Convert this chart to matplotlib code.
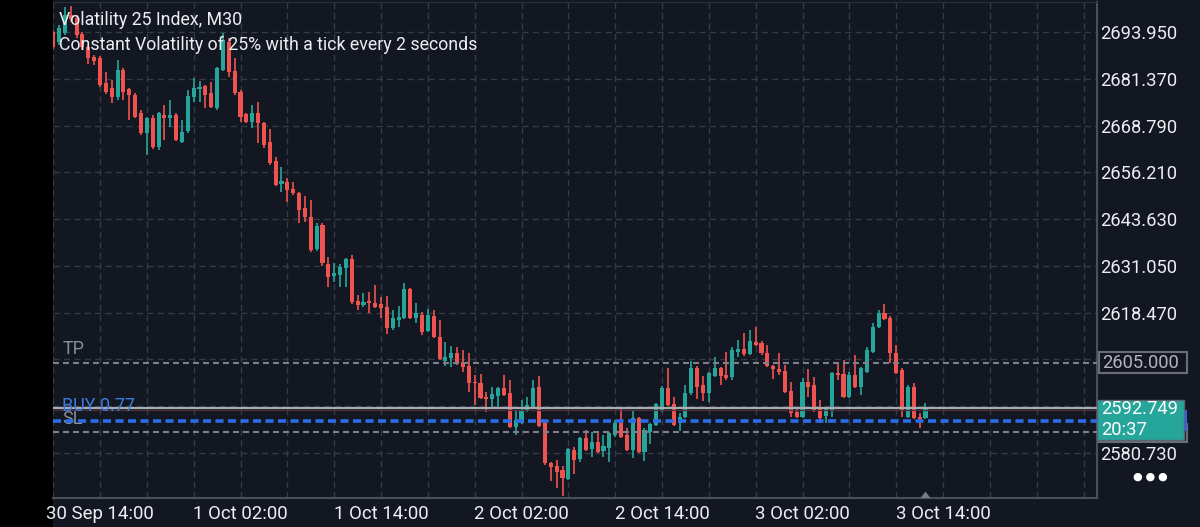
import numpy as np
import matplotlib.pyplot as plt
import matplotlib.transforms as mtransforms
from matplotlib.patches import Rectangle, Polygon

plt.rcParams['font.family'] = ['Roboto', 'DejaVu Sans']
plt.rcParams['lines.scale_dashes'] = False

# Volatility 25 Index, M30 candles. index 0 = 30 Sep 14:00, first candle is index -8
first_index = -8
opens = [2693.95, 2691.26, 2693.68, 2698.52, 2697.72, 2693.41, 2689.92, 2687.23,
         2686.96, 2680.23, 2678.89, 2676.47, 2683.73, 2678.62, 2677.00, 2672.16, 2666.78, 2670.82,
         2663.02, 2671.62, 2670.82, 2671.62, 2664.36, 2667.32, 2676.47, 2678.62, 2679.43, 2677.54,
         2673.51, 2683.73, 2691.26, 2683.46, 2677.81, 2671.89, 2669.74, 2672.16, 2669.47, 2664.36,
         2659.25, 2653.06, 2653.60, 2651.68, 2650.64, 2646.61, 2644.19, 2635.58, 2642.03, 2631.54,
         2628.32, 2628.59, 2630.47, 2632.89, 2621.59, 2620.51, 2621.59, 2621.05, 2620.78, 2619.98,
         2614.33, 2616.48, 2617.02, 2624.82, 2617.02, 2617.83, 2613.52, 2617.56, 2611.91, 2605.45,
         2606.26, 2607.60, 2605.18, 2604.11, 2599.80, 2599.53, 2595.77, 2595.23, 2596.04, 2598.15,
         2596.84, 2587.70, 2588.77, 2592.00, 2592.81, 2598.42, 2588.77, 2578.01, 2577.21, 2576.13,
         2573.71, 2581.51, 2579.09, 2584.74, 2581.78, 2583.66, 2581.24, 2582.05, 2585.55, 2588.77,
         2585.55, 2581.51, 2590.12, 2580.97, 2586.35, 2588.23, 2592.27, 2598.15, 2593.88, 2588.77,
         2590.39, 2596.84, 2603.57, 2598.96, 2596.84, 2601.42, 2603.57, 2601.69, 2601.15, 2607.87,
         2608.68, 2607.33, 2610.56, 2610.29, 2607.60, 2604.11, 2603.30, 2602.76, 2597.38, 2591.73,
         2590.39, 2599.80, 2598.99, 2592.81, 2590.66, 2592.27, 2602.23, 2601.95, 2595.77, 2601.69,
         2598.42, 2602.49, 2607.87, 2614.60, 2618.36, 2617.02, 2607.60, 2603.03, 2590.39, 2598.45,
         2590.39, 2590.12]
highs = [2694.49, 2695.83, 2700.68, 2700.95, 2698.52, 2693.95, 2690.45, 2687.76,
         2687.50, 2683.19, 2681.04, 2686.42, 2684.27, 2678.89, 2677.54, 2672.97, 2671.09, 2671.62,
         2672.43, 2674.31, 2675.66, 2672.16, 2670.28, 2678.35, 2681.58, 2680.77, 2679.69, 2680.50,
         2684.54, 2693.68, 2692.34, 2686.96, 2678.35, 2672.16, 2674.31, 2675.12, 2669.74, 2667.86,
         2660.33, 2657.64, 2654.67, 2653.60, 2650.91, 2649.84, 2648.76, 2642.57, 2642.57, 2633.43,
         2631.81, 2631.54, 2633.20, 2633.97, 2623.21, 2623.74, 2624.01, 2625.90, 2622.67, 2622.94,
         2619.17, 2620.24, 2626.43, 2625.10, 2621.05, 2618.63, 2619.44, 2619.17, 2616.48, 2610.56,
         2609.49, 2609.22, 2608.41, 2607.60, 2601.69, 2601.95, 2597.11, 2598.42, 2598.42, 2601.69,
         2600.34, 2592.27, 2594.96, 2595.77, 2600.34, 2601.42, 2589.04, 2578.28, 2578.82, 2577.21,
         2582.00, 2582.32, 2585.01, 2586.89, 2586.35, 2586.35, 2585.55, 2586.35, 2589.58, 2593.08,
         2587.43, 2592.27, 2590.39, 2587.43, 2588.77, 2594.15, 2598.69, 2603.57, 2595.77, 2591.46,
         2598.96, 2605.45, 2604.11, 2601.42, 2602.49, 2606.53, 2603.84, 2607.87, 2609.22, 2611.10,
         2612.98, 2613.79, 2614.60, 2610.83, 2609.76, 2604.38, 2607.60, 2604.38, 2599.80, 2592.81,
         2600.88, 2603.30, 2601.15, 2594.96, 2593.08, 2602.49, 2605.18, 2605.72, 2602.49, 2607.06,
         2603.84, 2609.22, 2615.67, 2619.17, 2620.78, 2617.56, 2609.76, 2603.57, 2598.99, 2599.53,
         2591.46, 2594.15]
lows = [2689.38, 2690.45, 2693.14, 2696.64, 2692.34, 2689.11, 2685.34, 2685.07,
        2679.16, 2677.27, 2674.85, 2675.66, 2675.66, 2670.28, 2670.82, 2666.24, 2660.86, 2662.48,
        2662.21, 2664.90, 2668.40, 2664.63, 2664.09, 2666.78, 2675.12, 2675.12, 2673.51, 2673.51,
        2672.97, 2683.46, 2681.85, 2677.00, 2669.74, 2669.47, 2668.13, 2664.09, 2662.75, 2658.17,
        2652.50, 2650.91, 2648.22, 2650.10, 2642.57, 2642.84, 2634.77, 2635.04, 2631.00, 2625.36,
        2626.70, 2625.36, 2625.36, 2620.80, 2619.17, 2619.98, 2618.36, 2619.71, 2617.02, 2612.71,
        2613.80, 2614.60, 2616.70, 2616.70, 2615.67, 2612.44, 2613.25, 2611.60, 2605.72, 2604.11,
        2603.84, 2604.38, 2602.49, 2597.11, 2593.62, 2595.23, 2591.73, 2593.08, 2593.08, 2596.04,
        2587.40, 2585.55, 2588.50, 2591.73, 2592.60, 2587.70, 2577.47, 2573.13, 2571.25, 2569.14,
        2573.50, 2574.98, 2578.28, 2581.24, 2579.63, 2580.70, 2579.63, 2578.28, 2585.01, 2584.80,
        2581.24, 2579.36, 2580.70, 2578.55, 2583.12, 2587.97, 2591.73, 2593.35, 2587.97, 2586.62,
        2590.10, 2596.31, 2595.23, 2594.69, 2594.42, 2601.15, 2598.99, 2600.34, 2600.34, 2606.53,
        2606.80, 2607.06, 2609.49, 2607.06, 2603.84, 2600.61, 2601.69, 2596.84, 2590.39, 2590.12,
        2590.12, 2595.77, 2591.73, 2588.77, 2588.77, 2590.39, 2600.34, 2595.50, 2595.50, 2598.15,
        2596.31, 2602.23, 2607.60, 2614.30, 2616.48, 2604.91, 2601.95, 2590.39, 2590.10, 2589.85,
        2587.43, 2589.85]
closes = [2689.92, 2695.03, 2698.52, 2697.45, 2693.14, 2689.92, 2686.96, 2686.15,
          2679.69, 2677.81, 2676.47, 2683.73, 2677.81, 2677.00, 2671.09, 2666.78, 2670.82, 2663.02,
          2672.16, 2670.82, 2671.62, 2664.90, 2667.05, 2676.74, 2678.89, 2679.16, 2677.00, 2673.78,
          2684.27, 2691.80, 2683.19, 2677.54, 2671.09, 2669.74, 2672.16, 2669.47, 2663.55, 2658.71,
          2652.79, 2653.86, 2651.41, 2650.64, 2646.07, 2644.19, 2635.31, 2641.77, 2631.81, 2628.05,
          2629.12, 2630.74, 2632.89, 2621.32, 2620.51, 2621.32, 2621.05, 2619.98, 2619.71, 2614.33,
          2617.02, 2617.29, 2624.82, 2617.02, 2618.36, 2613.25, 2617.83, 2611.91, 2605.99, 2606.53,
          2607.60, 2604.64, 2603.84, 2599.53, 2599.53, 2595.50, 2595.23, 2596.57, 2598.15, 2596.31,
          2587.70, 2589.58, 2592.27, 2593.62, 2598.15, 2587.97, 2578.01, 2576.94, 2575.60, 2573.98,
          2581.78, 2578.82, 2584.74, 2581.51, 2583.66, 2580.97, 2582.59, 2586.08, 2588.77, 2585.01,
          2581.51, 2590.12, 2580.97, 2586.89, 2588.50, 2593.88, 2598.15, 2593.62, 2588.23, 2590.39,
          2596.84, 2603.57, 2598.42, 2596.84, 2602.23, 2603.57, 2601.42, 2600.88, 2608.41, 2608.68,
          2607.33, 2610.83, 2609.76, 2607.60, 2604.11, 2603.30, 2602.49, 2597.11, 2591.46, 2590.39,
          2599.80, 2598.45, 2592.27, 2590.12, 2592.54, 2602.23, 2601.69, 2595.77, 2601.69, 2598.42,
          2603.57, 2608.41, 2614.60, 2618.36, 2616.75, 2607.60, 2602.23, 2592.27, 2598.45, 2590.12,
          2589.85, 2592.749]

price_ticks = [2580.730, 2593.310, 2605.890, 2618.470, 2631.050,
               2643.630, 2656.210, 2668.790, 2681.370, 2693.950]
hidden_ticks = [2593.310, 2605.890]
time_labels = ['30 Sep 14:00', '1 Oct 02:00', '1 Oct 14:00', '2 Oct 02:00',
               '2 Oct 14:00', '3 Oct 02:00', '3 Oct 14:00']
time_label_idx = [0, 24, 48, 72, 96, 120, 144]

tp_price = 2605.000
bid_price = 2592.749
ask_price = 2592.40
entry_price = 2589.39
sl_price = 2586.43
lots = 0.77
countdown = '20:37'

BG = '#131722'
BULL = '#26a69a'
BEAR = '#ef5350'
GRID = '#363a45'
TXT = '#eceef2'

o = np.array(opens)
h = np.array(highs)
l = np.array(lows)
c = np.array(closes)
idx = np.arange(len(o)) + first_index
cols = np.where(c >= o, BULL, BEAR)

fig = plt.figure(figsize=(12, 5.27), dpi=100, facecolor=BG)
# black strip on the left (phone screen edge), kept under everything
fig.patches.append(Rectangle((0, 0), 53 / 1200, 1, transform=fig.transFigure,
                             facecolor='black', edgecolor='none', zorder=-1))
ax = fig.add_axes([53 / 1200, 29 / 527, 1044 / 1200, 496 / 527])
ax.set_facecolor(BG)
ax.set_xlim(-8.03, 170.3)
ax.set_ylim(2568.60, 2702.02)

# grid
for gx in np.arange(-8, 171, 8):
    ax.axvline(gx, color=GRID, lw=1, dashes=(4.5, 3), zorder=1)
for gy in price_ticks:
    ax.axhline(gy, color=GRID, lw=1, dashes=(4.5, 3), zorder=1)

# candles
ax.vlines(idx, l, h, colors=cols, lw=1.2, zorder=3)
body = np.maximum(np.abs(c - o), 0.3)
ax.bar(idx, body, bottom=np.minimum(o, c), width=0.7, color=cols, zorder=4)

# trade levels
ax.axhline(tp_price, color='#7d808a', lw=1.5, dashes=(4.3, 2.9), zorder=5)
ax.axhline(sl_price, color='#7d808a', lw=1.5, dashes=(4.3, 2.9), zorder=5)
ax.axhline(entry_price, color='#2b6de8', lw=2.6, dashes=(5.8, 3.2), zorder=5)
ax.axhline(ask_price, color='#4e2e36', lw=0.9, zorder=5)
ax.axhline(bid_price, color='#a9acb3', lw=1.6, zorder=6)

lab = mtransforms.blended_transform_factory(ax.transAxes, ax.transData)
ax.text(0.009, tp_price + 1.2, 'TP', transform=lab, color='#8c8f99', fontsize=13, va='bottom')
ax.text(0.009, entry_price + 1.5, f'BUY {lots}', transform=lab, color='#3b7be0', fontsize=13,
        va='bottom', zorder=7)
ax.text(0.009, sl_price + 1.0, 'SL', transform=lab, color='#8c8f99', fontsize=13, va='bottom')

# axes look
ax.spines['left'].set_visible(False)
ax.spines['top'].set_color('#2a2e39')
ax.spines['right'].set_color('#4a4f5b')
ax.spines['bottom'].set_color('#4a4f5b')
ax.spines['right'].set_linewidth(1.5)
ax.spines['bottom'].set_linewidth(1.5)

ax.yaxis.tick_right()
ax.set_yticks(price_ticks)
ax.set_yticklabels(['' if p in hidden_ticks else f'{p:.3f}' for p in price_ticks])
ax.set_xticks(time_label_idx)
ax.set_xticklabels(time_labels)
ax.tick_params(axis='y', length=0, pad=2, labelsize=13.2, labelcolor=TXT)
ax.tick_params(axis='x', length=0, pad=5, labelsize=13.4, labelcolor=TXT)

# last bar marker
tri = Polygon([[idx[-1] - 0.85, 0], [idx[-1] + 0.85, 0], [idx[-1], 0.013]], closed=True,
              transform=mtransforms.blended_transform_factory(ax.transData, ax.transAxes),
              facecolor='#787b86', edgecolor='none', clip_on=False, zorder=8)
ax.add_patch(tri)

# price labels on the right scale
rt = mtransforms.blended_transform_factory(fig.transFigure, ax.transData)
px = 1 / 3.718
ax.add_patch(Rectangle((1099 / 1200, tp_price - 10 * px), 88 / 1200, 21 * px, transform=rt,
                       facecolor=BG, edgecolor='#6b6e78', lw=1.5, clip_on=False, zorder=9))
ax.text(1102 / 1200, tp_price, f'{tp_price:.3f}', transform=rt, color='#b2b5be', fontsize=13.2,
        va='center', ha='left', clip_on=False, zorder=10)
ax.add_patch(Rectangle((1099 / 1200, sl_price - 10 * px), 88 / 1200, 18 * px, transform=rt,
                       facecolor=BG, edgecolor='#6b6e78', lw=1.5, clip_on=False, zorder=9))
ax.add_patch(Rectangle((1099 / 1200, entry_price - 10 * px), 88 / 1200, 21 * px, transform=rt,
                       facecolor='#2962ff', edgecolor='none', clip_on=False, zorder=9))
ax.add_patch(Rectangle((1097 / 1200, bid_price - 32 * px), 87 / 1200, 40 * px, transform=rt,
                       facecolor='#26a69a', edgecolor='#5d6470', lw=1, clip_on=False, zorder=11))
ax.text(1101 / 1200, bid_price - 0.3, f'{bid_price:.3f}', transform=rt, color='white',
        fontsize=13.2, va='center', ha='left', clip_on=False, zorder=12)
ax.text(1101 / 1200, bid_price - 22 * px, countdown, transform=rt, color='white', fontsize=13.2,
        va='center', ha='left', clip_on=False, zorder=12)

fig.text(1150 / 1200, 1 - 477 / 527, '\u25cf \u25cf \u25cf', color='white', fontsize=8,
         ha='center', va='center')

# header
fig.text(59 / 1200, 1 - 20 / 527, 'Volatility 25 Index, M30', color=TXT, fontsize=12.8,
         va='center', ha='left')
fig.text(59 / 1200, 1 - 45 / 527, 'Constant Volatility of 25% with a tick every 2 seconds',
         color=TXT, fontsize=12.8, va='center', ha='left')

fig.savefig('out.png', dpi=100, facecolor=BG)
